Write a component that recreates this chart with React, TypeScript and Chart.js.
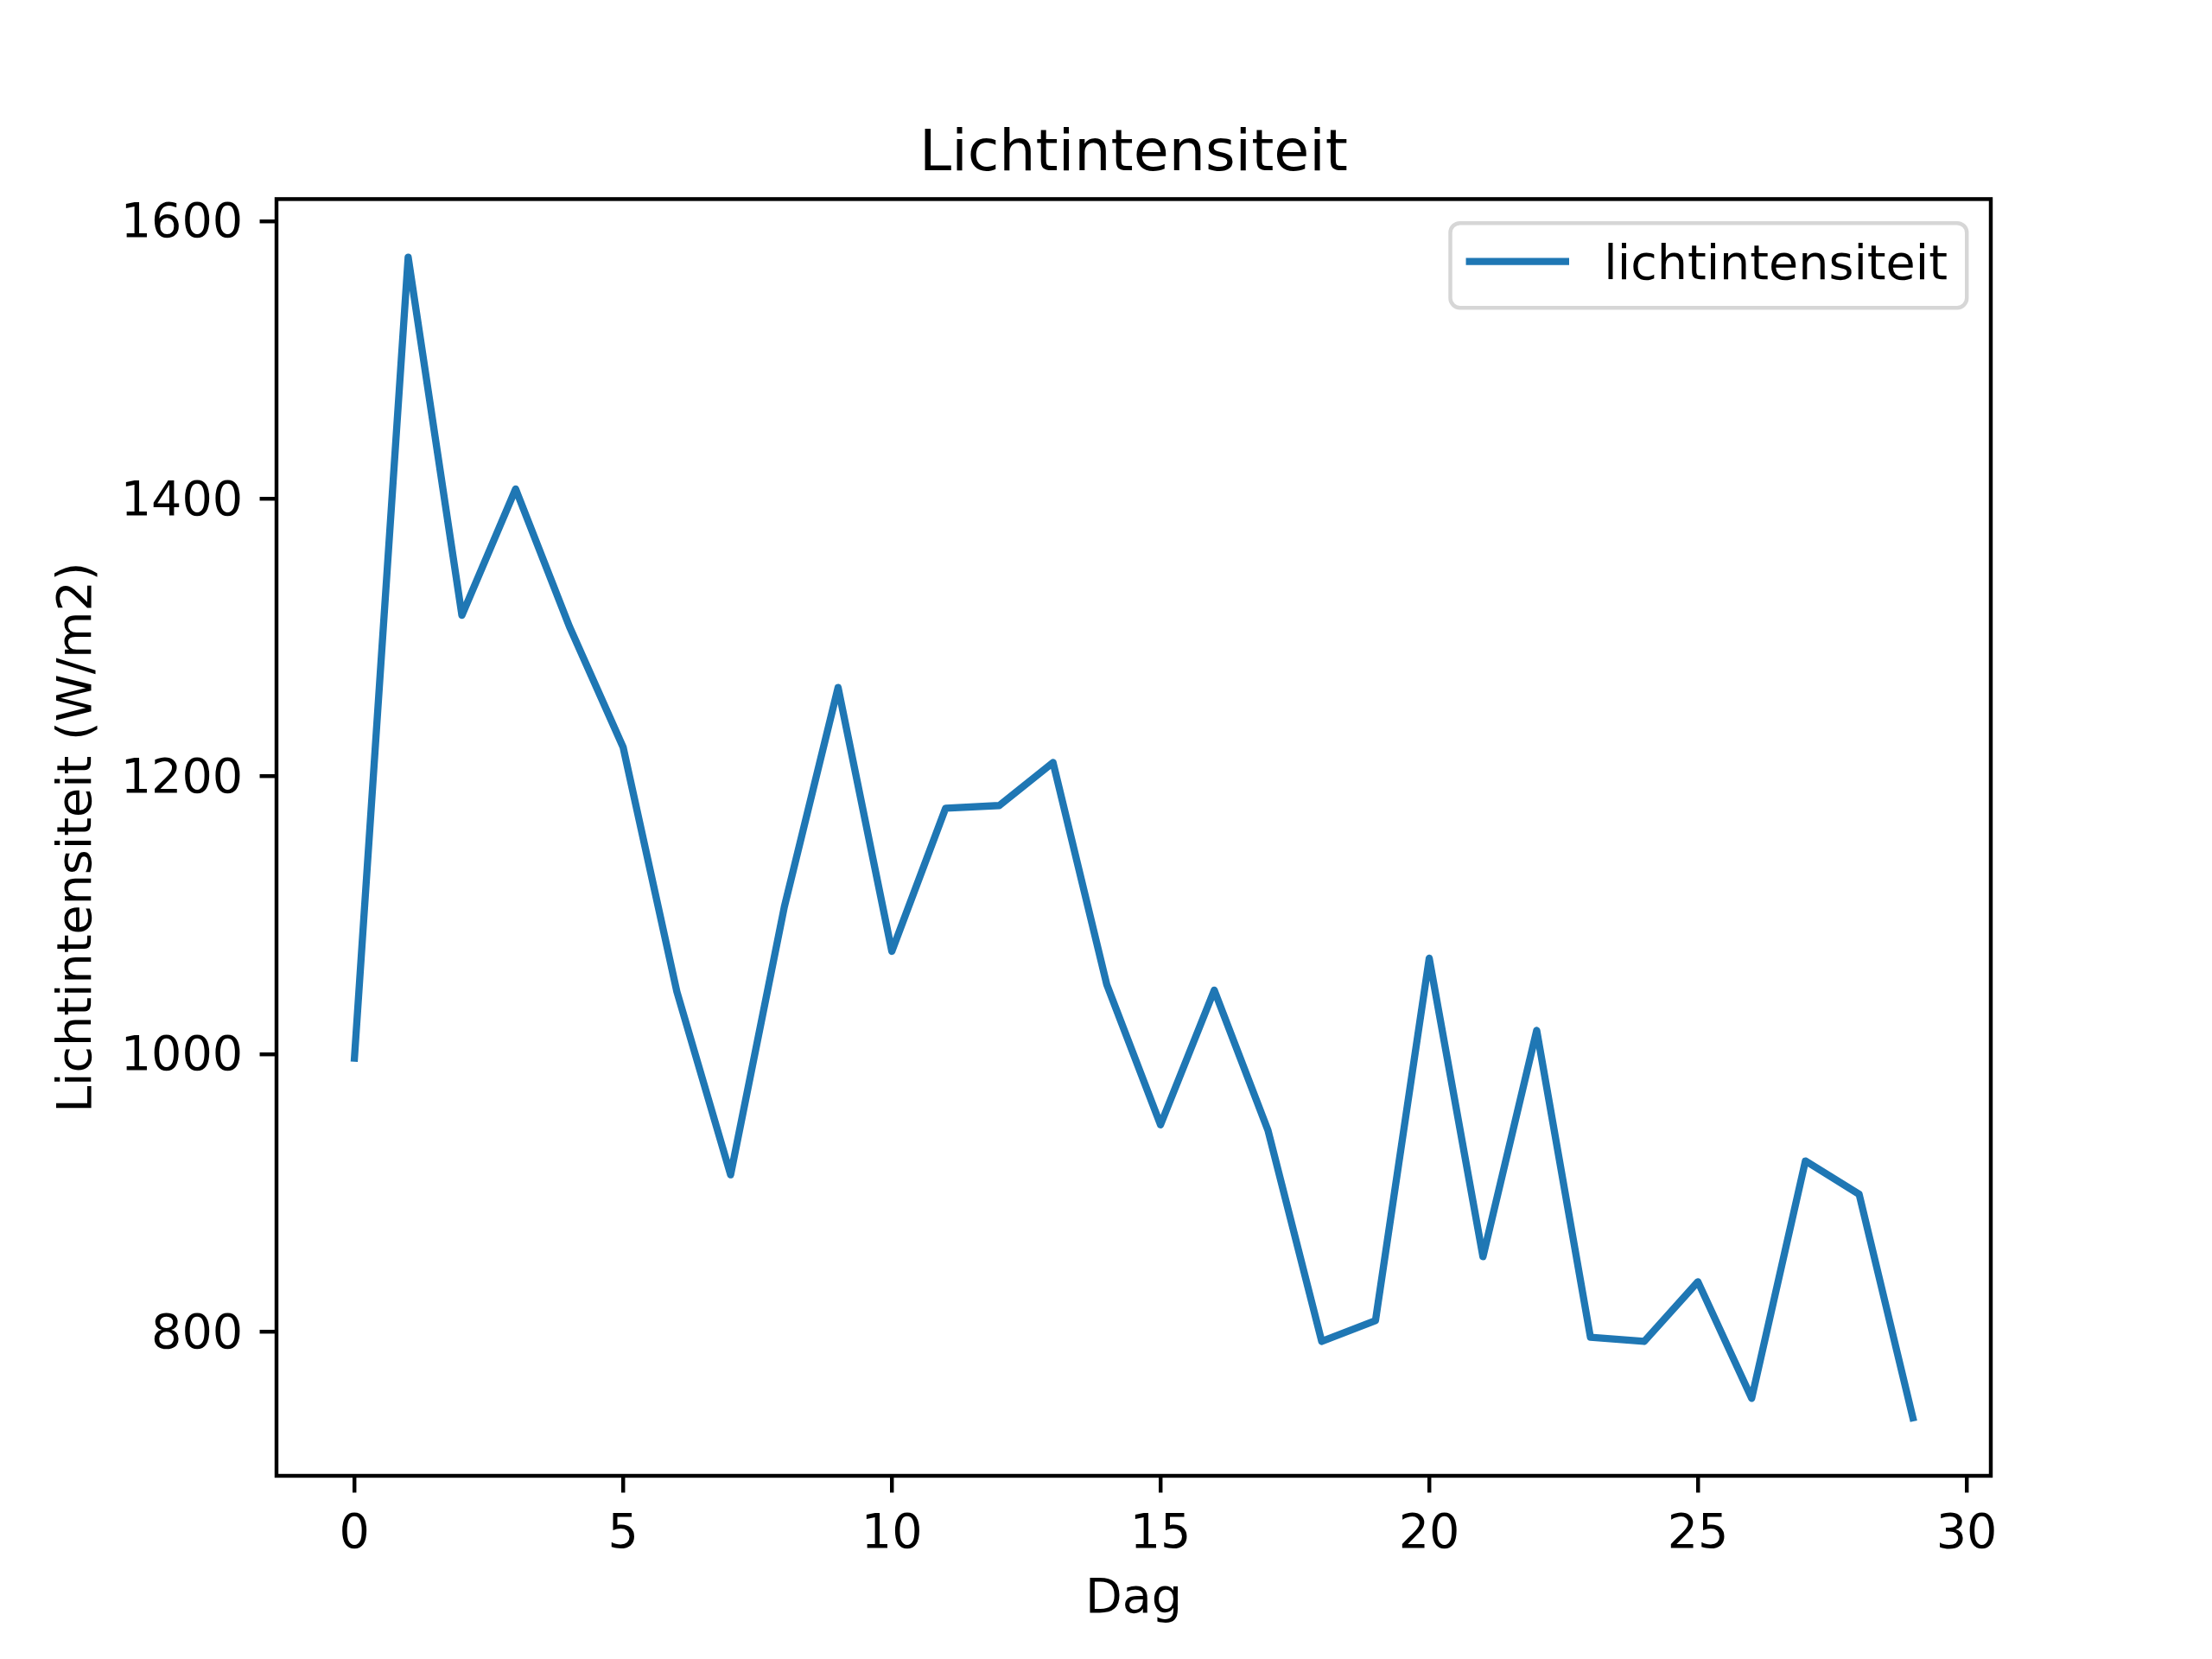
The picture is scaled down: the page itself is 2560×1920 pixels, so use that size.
import React, { useEffect, useRef } from 'react';
import { Chart, registerables } from 'chart.js';

Chart.register(...registerables);

// ---- data ----
const days = [0, 1, 2, 3, 4, 5, 6, 7, 8, 9, 10, 11, 12, 13, 14, 15, 16, 17, 18, 19, 20, 21, 22, 23, 24, 25, 26, 27, 28, 29];
const intensity = [997, 1574, 1316, 1407, 1308, 1221, 1045, 913, 1106, 1264, 1074, 1177, 1179, 1210, 1050, 949, 1046, 945, 793, 808, 1069, 854, 1017, 796, 793, 836, 752, 923, 899, 738];
const xTicks = [0, 5, 10, 15, 20, 25, 30];
const yTicks = [800, 1000, 1200, 1400, 1600];
const chartTitle = 'Lichtintensiteit';
const xLabel = 'Dag';
const yLabel = 'Lichtintensiteit (W/m2)';
const seriesLabel = 'lichtintensiteit';

const PT = 400 / 72;
const FONT = 'DejaVu Sans';
const LINE_COLOR = '#1f77b4';

function paddedRange(vals: number[]) {
  const lo = Math.min(...vals);
  const hi = Math.max(...vals);
  const m = (hi - lo) * 0.05;
  return [lo - m, hi + m];
}

const decorPlugin = {
  id: 'mplDecor',
  afterDraw(chart: any) {
    const ctx = chart.ctx;
    const a = chart.chartArea;
    ctx.save();
    // frame (spines)
    ctx.strokeStyle = '#000';
    ctx.lineWidth = 0.8 * PT;
    ctx.lineJoin = 'miter';
    ctx.strokeRect(a.left, a.top, a.right - a.left, a.bottom - a.top);

    // title
    ctx.fillStyle = '#000';
    ctx.font = `${12 * PT}px "${FONT}"`;
    ctx.textAlign = 'center';
    ctx.textBaseline = 'alphabetic';
    ctx.fillText(chartTitle, (a.left + a.right) / 2, a.top - 6 * PT);

    // legend
    const fs = 10 * PT;
    ctx.font = `${fs}px "${FONT}"`;
    const tw = ctx.measureText(seriesLabel).width;
    const pad = 0.4 * fs;
    const handleLen = 2 * fs;
    const handleTextPad = 0.8 * fs;
    const w = pad + handleLen + handleTextPad + tw + pad;
    const h = 98;
    const right = a.right - 0.5 * fs;
    const top = a.top + 0.5 * fs;
    const left = right - w;
    const r = 0.2 * fs;
    ctx.beginPath();
    ctx.moveTo(left + r, top);
    ctx.lineTo(right - r, top);
    ctx.arcTo(right, top, right, top + r, r);
    ctx.lineTo(right, top + h - r);
    ctx.arcTo(right, top + h, right - r, top + h, r);
    ctx.lineTo(left + r, top + h);
    ctx.arcTo(left, top + h, left, top + h - r, r);
    ctx.lineTo(left, top + r);
    ctx.arcTo(left, top, left + r, top, r);
    ctx.closePath();
    ctx.fillStyle = 'rgba(255,255,255,0.8)';
    ctx.fill();
    ctx.strokeStyle = 'rgba(204,204,204,0.8)';
    ctx.lineWidth = 0.8 * PT;
    ctx.stroke();

    const hy = top + 44.5;
    ctx.beginPath();
    ctx.moveTo(left + pad, hy);
    ctx.lineTo(left + pad + handleLen, hy);
    ctx.strokeStyle = LINE_COLOR;
    ctx.lineWidth = 1.5 * PT;
    ctx.lineCap = 'square';
    ctx.stroke();

    ctx.fillStyle = '#000';
    ctx.textAlign = 'left';
    ctx.textBaseline = 'alphabetic';
    ctx.fillText(seriesLabel, left + pad + handleLen + handleTextPad, top + 65);
    ctx.restore();
  },
};

export default function App() {
  const ref = useRef<HTMLCanvasElement | null>(null);

  useEffect(() => {
    document.body.style.margin = '0';
    const canvas = ref.current;
    if (!canvas) return;
    const [xMin, xMax] = paddedRange(days);
    const [yMin, yMax] = paddedRange(intensity);
    const tickFont = { family: FONT, size: 10 * PT };

    const chart = new Chart(canvas, {
      type: 'line',
      data: {
        datasets: [
          {
            label: seriesLabel,
            data: days.map((d, i) => ({ x: d, y: intensity[i] })),
            borderColor: LINE_COLOR,
            backgroundColor: LINE_COLOR,
            borderWidth: 1.5 * PT,
            pointRadius: 0,
            pointHoverRadius: 0,
            tension: 0,
            fill: false,
            borderJoinStyle: 'round',
            borderCapStyle: 'square',
          },
        ],
      },
      options: {
        animation: false,
        responsive: false,
        devicePixelRatio: 1,
        events: [],
        layout: { padding: { top: 230.4, right: 256, bottom: 0, left: 0 } },
        plugins: {
          legend: { display: false },
          title: { display: false },
          tooltip: { enabled: false },
        },
        scales: {
          x: {
            type: 'linear',
            min: xMin,
            max: xMax,
            afterBuildTicks: (s: any) => {
              s.ticks = xTicks.map((v) => ({ value: v }));
            },
            afterFit: (s: any) => {
              s.height = 212;
            },
            grid: {
              drawOnChartArea: false,
              drawTicks: true,
              tickLength: 3.5 * PT,
              lineWidth: 0.8 * PT,
              tickWidth: 0.8 * PT,
              color: '#000',
              tickColor: '#000',
            },
            border: { display: false },
            ticks: {
              color: '#000',
              font: tickFont,
              padding: 16,
              maxRotation: 0,
              autoSkip: false,
              callback: (v: any) => String(v),
            },
            title: {
              display: true,
              text: xLabel,
              color: '#000',
              font: tickFont,
              padding: { top: 0, bottom: 35 },
            },
          },
          y: {
            type: 'linear',
            min: yMin,
            max: yMax,
            afterBuildTicks: (s: any) => {
              s.ticks = yTicks.map((v) => ({ value: v }));
            },
            afterFit: (s: any) => {
              s.width = 320;
            },
            grid: {
              drawOnChartArea: false,
              drawTicks: true,
              tickLength: 3.5 * PT,
              lineWidth: 0.8 * PT,
              tickWidth: 0.8 * PT,
              color: '#000',
              tickColor: '#000',
            },
            border: { display: false },
            ticks: {
              color: '#000',
              font: tickFont,
              padding: 3.5 * PT,
              labelOffset: 4,
              autoSkip: false,
              callback: (v: any) => String(v),
            },
            title: {
              display: true,
              text: yLabel,
              color: '#000',
              font: tickFont,
              padding: { top: 57, bottom: 0 },
            },
          },
        },
      },
      plugins: [decorPlugin],
    } as any);

    return () => {
      chart.destroy();
    };
  }, []);

  return (
    <div style={{ position: 'absolute', left: 0, top: 0, width: 2560, height: 1920, background: '#fff' }}>
      <canvas ref={ref} width={2560} height={1920} style={{ width: 2560, height: 1920, display: 'block' }} />
    </div>
  );
}
